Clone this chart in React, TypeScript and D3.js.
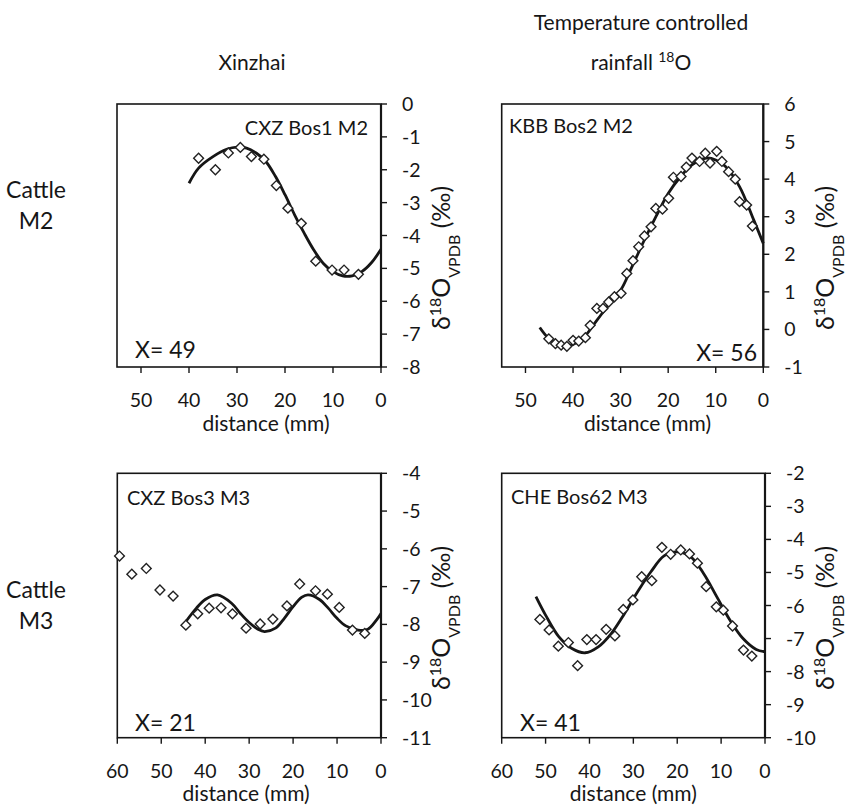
import React from "react";
import * as d3 from "d3";

// ---------- Data ----------
// Panel A: CXZ Bos1 M2
const cxzBos1Distance = [38.0, 34.5, 31.8, 29.3, 27.0, 24.4, 21.8, 19.4, 16.6, 13.6, 10.2, 7.7, 4.7];
const cxzBos1D18O = [-1.65, -2.0, -1.49, -1.32, -1.6, -1.68, -2.48, -3.17, -3.63, -4.78, -5.05, -5.05, -5.18];
const cxzBos1FitDistance = [40, 38, 35, 32, 30, 28, 26, 24, 22, 20, 18, 16, 14, 12, 10, 8, 6, 4, 2, 0];
const cxzBos1FitD18O = [-2.41, -1.95, -1.6, -1.37, -1.31, -1.34, -1.49, -1.75, -2.2, -2.76, -3.37, -3.93, -4.44, -4.85, -5.1, -5.23, -5.23, -5.1, -4.83, -4.42];

// Panel B: KBB Bos2 M2
const kbbBos2Distance = [45.1, 43.7, 42.5, 41.3, 40.0, 38.8, 37.4, 36.4, 35.0, 33.7, 32.5, 31.3, 29.9, 28.7, 27.4, 26.2, 25.0, 23.6, 22.6, 21.2, 19.9, 18.9, 17.3, 16.2, 15.0, 13.4, 12.2, 11.2, 9.8, 8.7, 7.3, 5.9, 5.0, 3.5, 2.3];
const kbbBos2D18O = [-0.25, -0.38, -0.42, -0.45, -0.29, -0.31, -0.22, 0.11, 0.56, 0.56, 0.73, 0.87, 0.96, 1.49, 1.83, 2.2, 2.49, 2.73, 3.22, 3.2, 3.49, 4.05, 4.07, 4.32, 4.56, 4.47, 4.69, 4.43, 4.74, 4.47, 4.2, 4.0, 3.4, 3.31, 2.75];
const kbbBos2FitDistance = [47, 45, 42, 40, 38, 35, 32, 30, 27.5, 25, 22.5, 20, 17.5, 15, 12, 10, 8, 5, 2, 0];
const kbbBos2FitD18O = [0.05, -0.25, -0.44, -0.4, -0.25, 0.24, 0.74, 1.04, 1.7, 2.38, 3.02, 3.62, 4.05, 4.38, 4.56, 4.51, 4.34, 3.8, 2.91, 2.29];

// Panel C: CXZ Bos3 M3
const cxzBos3Distance = [59.5, 56.7, 53.4, 50.3, 47.3, 44.4, 41.7, 39.1, 36.4, 33.8, 30.7, 27.5, 24.6, 21.4, 18.5, 14.9, 12.2, 9.5, 6.5, 3.7];
const cxzBos3D18O = [-6.19, -6.67, -6.52, -7.09, -7.25, -8.02, -7.72, -7.57, -7.56, -7.72, -8.1, -7.99, -7.86, -7.51, -6.93, -7.11, -7.2, -7.55, -8.15, -8.24];
const cxzBos3FitDistance = [44.3, 42, 40, 37.2, 34, 32, 30, 28, 26.5, 24, 22, 20, 18, 16.6, 14, 12, 10, 8, 5.2, 3, 1, 0];
const cxzBos3FitD18O = [-7.91, -7.57, -7.34, -7.22, -7.44, -7.71, -7.95, -8.13, -8.19, -8.1, -7.84, -7.53, -7.28, -7.22, -7.34, -7.57, -7.84, -8.04, -8.15, -8.13, -7.88, -7.71];

// Panel D: CHE Bos62 M3
const cheBos62Distance = [51.3, 49.2, 47.1, 44.8, 42.7, 40.6, 38.5, 36.2, 34.2, 32.3, 30.1, 28.1, 25.8, 23.5, 21.5, 19.2, 17.2, 15.4, 13.4, 11.1, 9.5, 7.4, 4.9, 3.0];
const cheBos62D18O = [-6.42, -6.74, -7.23, -7.12, -7.82, -7.03, -7.03, -6.72, -6.92, -6.12, -5.83, -5.13, -5.25, -4.24, -4.45, -4.32, -4.44, -4.72, -5.43, -6.04, -6.14, -6.62, -7.35, -7.53];
const cheBos62FitDistance = [52.2, 50, 47, 44, 41, 38, 35, 32, 29, 26, 23, 20, 17, 14, 11, 8, 5, 2, 0];
const cheBos62FitD18O = [-5.73, -6.29, -6.94, -7.3, -7.43, -7.25, -6.84, -6.24, -5.58, -4.98, -4.5, -4.38, -4.52, -5.03, -5.73, -6.44, -7.0, -7.33, -7.4];

// Tick labels
const xTicksShort = [50, 40, 30, 20, 10, 0];
const xTicksLong = [60, 50, 40, 30, 20, 10, 0];
const yTicksA = [0, -1, -2, -3, -4, -5, -6, -7, -8];
const yTicksB = [6, 5, 4, 3, 2, 1, 0, -1];
const yTicksC = [-4, -5, -6, -7, -8, -9, -10, -11];
const yTicksD = [-2, -3, -4, -5, -6, -7, -8, -9, -10];

// Text
const columnTitles = ["Xinzhai", "Temperature controlled", "rainfall "];
const rowTitles = [["Cattle", "M2"], ["Cattle", "M3"]];
const sampleNames = ["CXZ Bos1 M2", "KBB Bos2 M2", "CXZ Bos3 M3", "CHE Bos62 M3"];
const xLabels = ["X= 49", "X= 56", "X= 21", "X= 41"];

const FONT = "Lato, 'Open Sans', sans-serif";
const INK = "#161616";

type PanelProps = {
  left: number; right: number; top: number; bottom: number;
  xMax: number; yMax: number; yMin: number;
  xTicks: number[]; yTicks: number[];
  dist: number[]; vals: number[]; fitDist: number[]; fitVals: number[];
  name: string; nameAnchor: "start" | "end"; nameX: number; nameY: number;
  xLab: string; xLabAnchor: "start" | "end"; xLabX: number; xLabY: number;
  titleX: number; titleY: number; distShift: number;
};

function Panel(p: PanelProps) {
  const x = d3.scaleLinear().domain([p.xMax, 0]).range([p.left, p.right]);
  const y = d3.scaleLinear().domain([p.yMax, p.yMin]).range([p.top, p.bottom]);
  const fit = p.fitDist.map((d, i) => [d, p.fitVals[i]] as [number, number]);
  const line = d3
    .line<[number, number]>()
    .x((d) => x(d[0]))
    .y((d) => y(d[1]))
    .curve(d3.curveCatmullRom.alpha(0.5));
  const diamond = d3.symbol().type(d3.symbolSquare).size(48)();
  return (
    <g>
      <rect x={p.left} y={p.top} width={p.right - p.left} height={p.bottom - p.top}
        fill="white" stroke={INK} strokeWidth={1.6} />
      <line x1={p.right} x2={p.right} y1={p.top} y2={p.bottom} stroke={INK} strokeWidth={2.2} />
      {p.yTicks.map((t) => (
        <g key={"y" + t}>
          <line x1={p.right} x2={p.right + 6} y1={y(t)} y2={y(t)} stroke={INK} strokeWidth={1.4} />
          <text x={p.right + 21} y={y(t)} dy="0.36em" fontSize={19.5} fontFamily={FONT} fill={INK}>{t}</text>
        </g>
      ))}
      {p.xTicks.map((t) => (
        <g key={"x" + t}>
          <line x1={x(t)} x2={x(t)} y1={p.bottom} y2={p.bottom + 6} stroke={INK} strokeWidth={1.4} />
          <text x={x(t)} y={p.bottom + 33} dy="0.36em" textAnchor="middle" fontSize={19.5} fontFamily={FONT} fill={INK}>{t}</text>
        </g>
      ))}
      <text x={(p.left + p.right) / 2 + p.distShift} y={p.bottom + 56} dy="0.36em" textAnchor="middle" fontSize={21} fontFamily={FONT} fill={INK}>distance (mm)</text>
      <path d={line(fit) || ""} fill="none" stroke={INK} strokeWidth={2.8} />
      {p.dist.map((d, i) => (
        <path key={"p" + i} d={diamond || ""} transform={`translate(${x(d)},${y(p.vals[i])}) rotate(45)`}
          fill="white" stroke="#222" strokeWidth={1.4} />
      ))}
      <text x={p.nameX} y={p.nameY} dy="0.36em" textAnchor={p.nameAnchor} fontSize={20} fontFamily={FONT} fill={INK}>{p.name}</text>
      <text x={p.xLabX} y={p.xLabY} dy="0.36em" textAnchor={p.xLabAnchor} fontSize={23} fontFamily={FONT} fill={INK}>{p.xLab}</text>
      <text transform={`translate(${p.titleX},${p.titleY}) rotate(-90)`} textAnchor="middle" fontSize={25} fontFamily={FONT} fill={INK}>
        <tspan>δ</tspan>
        <tspan fontSize={16} baselineShift="super">18</tspan>
        <tspan>O</tspan>
        <tspan fontSize={16} baselineShift="sub">VPDB</tspan>
        <tspan> (‰)</tspan>
      </text>
    </g>
  );
}

export default function App() {
  return (
    <svg width={850} height={808} style={{ position: "absolute", left: 0, top: 0, background: "white" }}>
      <rect width={850} height={808} fill="white" />
      <text x={252} y={62} dy="0.36em" textAnchor="middle" fontSize={21} fontFamily={FONT} fill={INK}>{columnTitles[0]}</text>
      <text x={641} y={22} dy="0.36em" textAnchor="middle" fontSize={21} fontFamily={FONT} fill={INK}>{columnTitles[1]}</text>
      <text x={641} y={62} dy="0.36em" textAnchor="middle" fontSize={21} fontFamily={FONT} fill={INK}>
        {columnTitles[2]}<tspan fontSize={14} baselineShift="super">18</tspan><tspan>O</tspan>
      </text>
      {rowTitles.map((r, i) => (
        <g key={"r" + i}>
          <text x={36} y={i === 0 ? 190 : 590} dy="0.36em" textAnchor="middle" fontSize={23} fontFamily={FONT} fill={INK}>{r[0]}</text>
          <text x={36} y={i === 0 ? 221 : 621} dy="0.36em" textAnchor="middle" fontSize={23} fontFamily={FONT} fill={INK}>{r[1]}</text>
        </g>
      ))}
      <Panel left={117} right={381} top={104} bottom={367} xMax={55} yMax={0} yMin={-8}
        xTicks={xTicksShort} yTicks={yTicksA}
        dist={cxzBos1Distance} vals={cxzBos1D18O} fitDist={cxzBos1FitDistance} fitVals={cxzBos1FitD18O}
        name={sampleNames[0]} nameAnchor="end" nameX={368} nameY={128}
        xLab={xLabels[0]} xLabAnchor="start" xLabX={135} xLabY={350}
        titleX={450} titleY={258} distShift={17} />
      <Panel left={501.7} right={763.3} top={104} bottom={367} xMax={55} yMax={6} yMin={-1}
        xTicks={xTicksShort} yTicks={yTicksB}
        dist={kbbBos2Distance} vals={kbbBos2D18O} fitDist={kbbBos2FitDistance} fitVals={kbbBos2FitD18O}
        name={sampleNames[1]} nameAnchor="start" nameX={509} nameY={126}
        xLab={xLabels[1]} xLabAnchor="end" xLabX={757} xLabY={353}
        titleX={834} titleY={258} distShift={15} />
      <Panel left={117.3} right={381} top={473.3} bottom={737.7} xMax={60} yMax={-4} yMin={-11}
        xTicks={xTicksLong} yTicks={yTicksC}
        dist={cxzBos3Distance} vals={cxzBos3D18O} fitDist={cxzBos3FitDistance} fitVals={cxzBos3FitD18O}
        name={sampleNames[2]} nameAnchor="start" nameX={127} nameY={498}
        xLab={xLabels[2]} xLabAnchor="start" xLabX={135} xLabY={723}
        titleX={450} titleY={618} distShift={-3} />
      <Panel left={501.7} right={765} top={473.3} bottom={737.7} xMax={60} yMax={-2} yMin={-10}
        xTicks={xTicksLong} yTicks={yTicksD}
        dist={cheBos62Distance} vals={cheBos62D18O} fitDist={cheBos62FitDistance} fitVals={cheBos62FitD18O}
        name={sampleNames[3]} nameAnchor="start" nameX={511} nameY={497}
        xLab={xLabels[3]} xLabAnchor="start" xLabX={520} xLabY={723}
        titleX={834} titleY={618} distShift={0} />
    </svg>
  );
}
